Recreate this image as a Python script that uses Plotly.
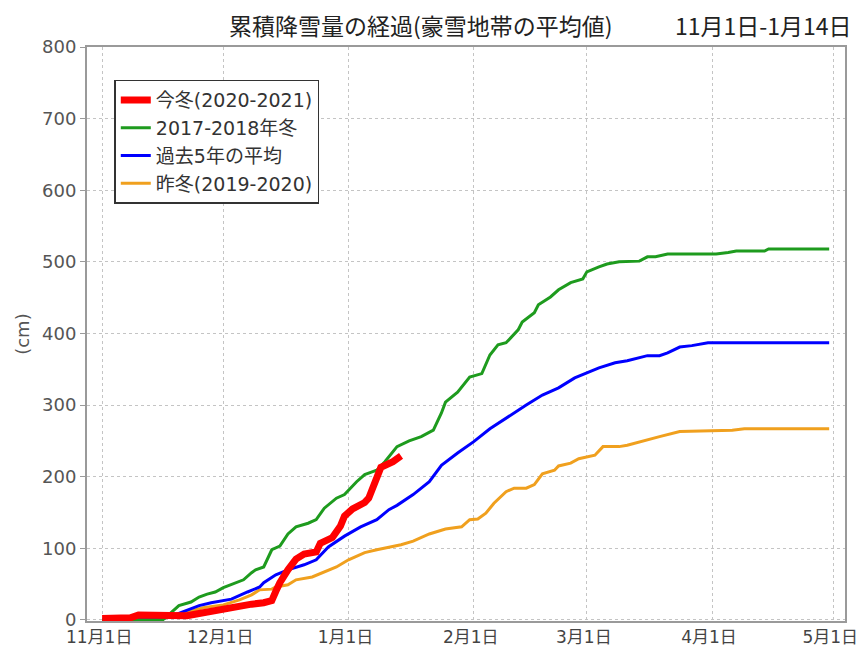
import plotly.graph_objects as go
import pandas as pd

season_start = "2020-11-01"

# 今冬(2020-2021): days since Nov 1, cumulative snowfall (cm)
red_day = [0, 7, 9, 15, 21, 24, 26, 30, 33, 37, 40, 42, 43, 44, 46, 48, 50, 53, 54, 57, 59, 60, 62, 65, 66, 67, 68, 69, 72, 74]
red_val = [2, 3, 7, 6, 6, 9, 11, 17, 20, 22, 24, 27, 40, 52, 70, 85, 92, 95, 107, 115, 131, 145, 155, 164, 170, 186, 203, 213, 221, 229]

# 2017-2018年冬
green_day = [0, 15, 17, 19, 22, 24, 26, 28, 30, 32, 35, 37, 38, 40, 42, 44, 46, 48, 51, 53, 55, 58, 60, 63, 65, 67, 68, 70,
             73, 76, 79, 82, 84, 85, 88, 91, 94, 96, 98, 100, 103, 104, 107, 108, 111, 113, 116, 119, 120, 123, 125, 128,
             131, 133, 135, 137, 140, 152, 155, 157, 164, 165, 180]
green_val = [0, 0, 10, 20, 25, 32, 36, 39, 45, 49, 56, 66, 70, 74, 98, 103, 120, 130, 135, 140, 156, 170, 175, 193, 203, 207, 209, 221,
             242, 250, 256, 265, 289, 304, 318, 339, 344, 370, 384, 387, 405, 416, 429, 440, 451, 461, 471, 476, 486, 493, 497, 500,
             501, 501, 507, 507, 511, 511, 513, 515, 515, 518, 518]

# 過去5年の平均
blue_day = [0, 15, 18, 21, 24, 27, 32, 36, 39, 40, 43, 46, 50, 53, 56, 60, 61, 64, 68, 71, 73, 77, 81, 84, 88, 92, 96, 101,
            105, 109, 113, 117, 120, 123, 127, 130, 135, 138, 140, 143, 146, 150, 180]
blue_val = [0, 2, 7, 14, 20, 24, 29, 39, 46, 52, 63, 70, 77, 84, 102, 117, 120, 130, 140, 154, 160, 175, 193, 216, 233, 249, 267, 286,
            300, 314, 324, 338, 345, 352, 359, 362, 369, 369, 373, 381, 383, 387, 387]

# 昨冬(2019-2020)
orange_day = [0, 15, 18, 21, 25, 30, 34, 37, 39, 42, 43, 46, 48, 52, 55, 58, 61, 65, 68, 71, 74, 77, 81, 85, 89, 91, 93, 95,
              97, 100, 102, 105, 107, 109, 112, 113, 116, 118, 120, 122, 124, 128, 130, 134, 136, 138, 143, 148, 156, 159, 180]
orange_val = [0, 2, 6, 11, 17, 21, 28, 35, 42, 43, 46, 49, 56, 60, 67, 74, 84, 94, 98, 101, 105, 110, 120, 127, 130, 140, 141, 149,
              163, 179, 184, 184, 189, 204, 209, 215, 219, 225, 228, 230, 242, 242, 244, 250, 254, 256, 263, 264, 265, 267, 267]

tick_dates = ["2020-11-01", "2020-12-01", "2021-01-01", "2021-02-01", "2021-03-01", "2021-04-01", "2021-05-01"]
tick_labels = ["11月1日", "12月1日", "1月1日", "2月1日", "3月1日", "4月1日", "5月1日"]
y_ticks = [0, 100, 200, 300, 400, 500, 600, 700, 800]

title_main = "累積降雪量の経過(豪雪地帯の平均値)"
title_period = "11月1日-1月14日"

base = pd.Timestamp(season_start)
def to_dates(days):
    return [base + pd.Timedelta(days=d) for d in days]

FONT = "DejaVu Sans, Noto Sans CJK JP, sans-serif"

fig = go.Figure()
fig.add_trace(go.Scatter(x=to_dates(orange_day), y=orange_val, mode="lines", name="昨冬(2019-2020)",
                         line=dict(color="#f0a01e", width=3), legendrank=4))
fig.add_trace(go.Scatter(x=to_dates(blue_day), y=blue_val, mode="lines", name="過去5年の平均",
                         line=dict(color="#0000ff", width=3), legendrank=3))
fig.add_trace(go.Scatter(x=to_dates(green_day), y=green_val, mode="lines", name="2017-2018年冬",
                         line=dict(color="#1e9b1e", width=3), legendrank=2))
fig.add_trace(go.Scatter(x=to_dates(red_day), y=red_val, mode="lines", name="今冬(2020-2021)",
                         line=dict(color="#ff0000", width=7), legendrank=1))

fig.update_layout(
    width=865, height=642,
    margin=dict(l=79, r=28, t=39, b=29, autoexpand=False),
    paper_bgcolor="white", plot_bgcolor="white",
    font=dict(family=FONT, size=18, color="#444"),
    showlegend=True,
    legend=dict(x=0.036, y=0.943, xanchor="left", yanchor="top",
                bgcolor="white", bordercolor="#333", borderwidth=1.5,
                font=dict(family=FONT, size=19, color="#333"),
                traceorder="normal"),
    xaxis=dict(type="date", range=["2020-10-28T06:00", "2021-05-03T22:00"],
               tickvals=tick_dates, ticktext=tick_labels, automargin=False,
               showgrid=True, gridcolor="#c4c4c4", griddash="dot", gridwidth=1,
               showline=True, linecolor="#9a9a9a", linewidth=2, mirror=True,
               ticks="", ticklabeloverflow="allow", ticklabelshift=-3,
               tickfont=dict(family=FONT, size=17, color="#444"), zeroline=False),
    yaxis=dict(range=[-1.5, 800], tickvals=y_ticks, automargin=False,
               showgrid=True, gridcolor="#c4c4c4", griddash="dot", gridwidth=1,
               showline=True, linecolor="#9a9a9a", linewidth=2, mirror=True,
               ticks="outside", ticklen=5, tickcolor="#9a9a9a",
               tickfont=dict(family=FONT, size=18, color="#555"), zeroline=False),
    annotations=[
        dict(text=title_main, x=0.44, y=1.039, xref="paper", yref="paper", xanchor="center", yanchor="middle",
             showarrow=False, borderpad=0, font=dict(family="Noto Sans CJK JP", size=23, color="#222")),
        dict(text=title_period, x=1.01, y=1.039, xref="paper", yref="paper", xanchor="right", yanchor="middle",
             showarrow=False, borderpad=0, font=dict(family="Noto Sans CJK JP", size=23, color="#222")),
        dict(text="(cm)", x=-0.086, y=0.5, xref="paper", yref="paper", xanchor="center", yanchor="middle",
             textangle=-90, showarrow=False, font=dict(family=FONT, size=18, color="#555")),
    ],
)

fig.write_html("out.html")
